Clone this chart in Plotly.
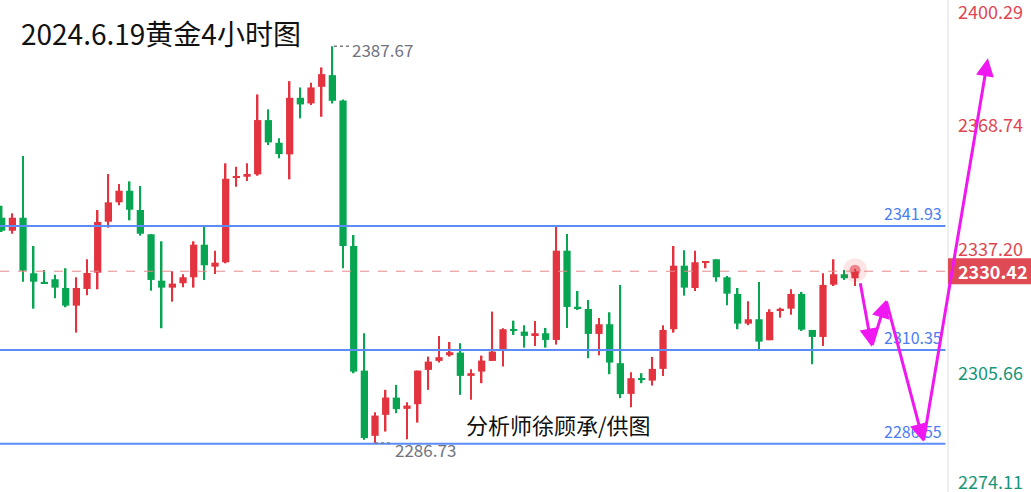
import plotly.graph_objects as go

# ---------------- data ----------------
opens = [2344.04, 2340.73, 2344.04, 2329.90, 2327.69, 2328.38, 2326.16, 2321.66, 2325.91, 2330.05,
         2343.02, 2347.95, 2350.90, 2346.00, 2339.82, 2328.02, 2326.24, 2327.36, 2328.88, 2337.17,
         2331.58, 2332.70, 2354.26, 2354.46, 2355.07, 2368.88, 2363.11, 2360.16, 2374.55, 2373.12,
         2377.35, 2380.32, 2373.89, 2336.84, 2305.13, 2288.53, 2293.87, 2298.27, 2295.40, 2296.59,
         2305.31, 2307.60, 2309.05, 2309.71, 2303.79, 2304.88, 2307.60, 2310.58, 2315.61, 2315.05,
         2314.14, 2314.64, 2312.94, 2335.65, 2321.28, 2320.82, 2314.47, 2316.93, 2307.02, 2299.21,
         2303.08, 2302.59, 2305.57, 2315.66, 2331.83, 2326.16, 2332.65, 2333.46, 2328.88, 2324.64,
         2317.09, 2318.20, 2312.86, 2320.52, 2320.90, 2324.64, 2315.48, 2313.70, 2327.00, 2329.65,
         2328.63]
highs = [2347.09, 2345.16, 2359.73, 2336.84, 2330.74, 2329.54, 2331.17, 2328.88, 2333.46, 2346.00,
         2355.15, 2352.61, 2353.29, 2352.10, 2339.82, 2338.04, 2330.41, 2329.65, 2338.04, 2341.75,
         2335.65, 2357.87, 2357.00, 2357.87, 2375.41, 2371.60, 2364.23, 2378.79, 2377.19, 2378.36,
         2382.28, 2387.67, 2374.14, 2339.64, 2314.64, 2294.56, 2300.23, 2301.50, 2297.10, 2305.13,
         2308.70, 2313.96, 2312.43, 2312.10, 2305.49, 2308.95, 2320.14, 2315.92, 2317.85, 2316.68,
         2317.77, 2315.99, 2341.75, 2339.89, 2325.40, 2323.11, 2318.53, 2319.98, 2326.93, 2304.73,
         2304.47, 2308.62, 2316.68, 2336.84, 2335.75, 2335.65, 2332.85, 2333.46, 2329.21, 2326.16,
         2322.78, 2327.69, 2320.75, 2321.15, 2325.83, 2325.15, 2315.48, 2329.90, 2333.46, 2330.74,
         2331.00]
lows = [2340.40, 2339.97, 2327.76, 2320.90, 2327.30, 2323.54, 2321.26, 2314.80, 2324.31, 2325.83,
        2341.50, 2347.19, 2343.38, 2339.46, 2325.48, 2315.92, 2322.68, 2326.34, 2326.24, 2328.20,
        2329.72, 2332.44, 2351.92, 2353.37, 2354.72, 2362.52, 2359.14, 2353.80, 2369.31, 2372.69,
        2369.72, 2373.12, 2331.17, 2304.47, 2287.51, 2286.73, 2289.63, 2294.30, 2287.69, 2291.91,
        2300.23, 2307.17, 2308.70, 2298.96, 2297.69, 2301.93, 2307.60, 2306.15, 2314.21, 2310.98,
        2311.42, 2310.98, 2311.75, 2315.99, 2320.57, 2308.29, 2309.05, 2304.22, 2298.12, 2295.83,
        2301.93, 2301.32, 2303.79, 2314.80, 2324.21, 2325.40, 2331.17, 2327.76, 2321.76, 2315.66,
        2316.68, 2310.58, 2312.86, 2318.61, 2319.37, 2315.23, 2306.76, 2311.42, 2326.67, 2328.20,
        2326.67]
closes = [2340.73, 2344.04, 2330.56, 2327.76, 2327.36, 2326.24, 2321.66, 2326.16, 2329.98, 2342.94,
          2347.95, 2350.90, 2346.07, 2339.97, 2328.20, 2326.24, 2327.26, 2328.88, 2337.17, 2331.93,
          2332.60, 2353.95, 2354.51, 2355.15, 2368.88, 2363.21, 2360.23, 2374.55, 2372.87, 2377.19,
          2380.57, 2373.79, 2336.84, 2304.88, 2287.95, 2293.69, 2298.27, 2295.32, 2296.24, 2305.13,
          2307.42, 2308.54, 2309.81, 2303.79, 2304.47, 2307.68, 2309.97, 2315.66, 2315.36, 2313.96,
          2314.64, 2312.94, 2335.65, 2321.33, 2321.03, 2314.47, 2316.93, 2307.17, 2299.14, 2303.20,
          2302.82, 2305.57, 2315.48, 2331.83, 2326.24, 2332.70, 2332.85, 2328.88, 2324.72, 2317.09,
          2318.20, 2312.51, 2320.06, 2320.75, 2324.64, 2315.56, 2313.70, 2326.93, 2329.65, 2328.63,
          2330.42]

current_price = 2330.42
level_lines = [2341.93, 2310.35, 2286.55]
axis_labels = [2400.29, 2368.74, 2337.20, 2305.66, 2274.11]
marked_high = 2387.67
marked_low = 2286.73

# forecast path (bar index, price)
forecast_x = [80.47, 81.57, 82.91, 86.41, 92.46]
forecast_y = [2327.76, 2311.22, 2323.10, 2287.04, 2384.60]

title = "2024.6.19黄金4小时图"
credit = "分析师徐顾承/供图"

# ---------------- style ----------------
RED = "#e2333f"
GREEN = "#07a552"
BLUE = "#5b8cf7"
BLUE_TXT = "#4a7cf2"
MAGENTA = "#f018f0"
AXRED = "#e04652"
AXGREEN = "#17977a"
FONT = "Noto Sans CJK SC"

XMIN, XEDGE, XMAX = -0.16, 88.72, 96.5
YMIN, YMAX = 2274.24, 2399.44

n = len(opens)
idx = list(range(n))
up = [c >= o for o, c in zip(opens, closes)]
colors = [RED if u else GREEN for u in up]
body_base = [min(o, c) for o, c in zip(opens, closes)]
body_h = [max(abs(c - o), 0.35) for o, c in zip(opens, closes)]
wick_h = [h - l for h, l in zip(highs, lows)]

fig = go.Figure()
fig.add_trace(go.Bar(x=idx, y=wick_h, base=lows, width=0.14,
                     marker=dict(color=colors, line=dict(width=0)), hoverinfo="skip"))
fig.add_trace(go.Bar(x=idx, y=body_h, base=body_base, width=0.68,
                     marker=dict(color=colors, line=dict(width=0)), hoverinfo="skip"))

# glow on last candle
fig.add_trace(go.Scatter(x=[n - 1], y=[highs[-1] - 0.3], mode="markers",
                         marker=dict(size=24, color="rgba(226,51,63,0.13)"), hoverinfo="skip"))
fig.add_trace(go.Scatter(x=[n - 1], y=[highs[-1] - 0.3], mode="markers",
                         marker=dict(size=11, color="rgba(226,51,63,0.55)"), hoverinfo="skip"))

shapes = []
# separator of price axis
shapes.append(dict(type="line", xref="x", yref="paper", x0=XEDGE, x1=XEDGE, y0=0, y1=1,
                   line=dict(color="#eeeff2", width=2)))
# level lines
for lv in level_lines:
    shapes.append(dict(type="line", xref="x", yref="y", x0=XMIN, x1=XEDGE - 0.25, y0=lv, y1=lv,
                       line=dict(color=BLUE, width=2)))
# current price dashed line
shapes.append(dict(type="line", xref="x", yref="y", x0=XMIN, x1=XEDGE, y0=current_price,
                   y1=current_price, line=dict(color="#e58a8a", width=1, dash="dash")))
# current price tag
shapes.append(dict(type="rect", xref="x", yref="y", x0=XEDGE, x1=XMAX,
                   y0=current_price - 3.3, y1=current_price + 3.3,
                   fillcolor="#df4a55", line=dict(width=0)))
# dotted leaders for high/low marks
hi_i = highs.index(marked_high)
lo_i = lows.index(marked_low)
shapes.append(dict(type="line", xref="x", yref="y", x0=hi_i + 0.15, x1=hi_i + 1.6,
                   y0=marked_high, y1=marked_high, line=dict(color="#777c88", width=1.5, dash="dot")))
shapes.append(dict(type="line", xref="x", yref="y", x0=lo_i + 0.0, x1=lo_i + 1.6,
                   y0=marked_low, y1=marked_low, line=dict(color="#777c88", width=1.5, dash="dot")))

ann = []
ann.append(dict(text=title, xref="paper", yref="paper", x=0.018, y=0.933, xanchor="left",
                yanchor="middle", showarrow=False, font=dict(family=FONT, size=28, color="#111")))
ann.append(dict(text=credit, xref="x", yref="y", x=43.3, y=marked_low, xanchor="left",
                yanchor="bottom", yshift=1, showarrow=False,
                font=dict(family=FONT, size=22, color="#111")))
ann.append(dict(text=f"{marked_high:.2f}", xref="x", yref="y", x=hi_i + 1.65, y=marked_high,
                xanchor="left", yanchor="middle", yshift=-3, showarrow=False,
                font=dict(family=FONT, size=17, color="#6f7480")))
ann.append(dict(text=f"{marked_low:.2f}", xref="x", yref="y", x=lo_i + 1.65, y=marked_low,
                xanchor="left", yanchor="middle", yshift=-7, showarrow=False,
                font=dict(family=FONT, size=17, color="#6f7480")))
for lv in level_lines:
    ann.append(dict(text=f"{lv:.2f}", xref="x", yref="y", x=XEDGE, y=lv, xanchor="right",
                    yanchor="bottom", xshift=-4, yshift=-1, showarrow=False,
                    font=dict(family=FONT, size=16, color=BLUE_TXT)))
pad = 2.8
for v in axis_labels:
    yy = min(max(v, YMIN + pad), YMAX - pad)
    ann.append(dict(text=f"{v:.2f}", xref="x", yref="y", x=XEDGE, y=yy, xanchor="left",
                    yanchor="middle", xshift=8, yshift=-3 if YMIN + pad < v < YMAX - pad else 0,
                    showarrow=False,
                    font=dict(family=FONT, size=18, color=AXRED if v > current_price else AXGREEN)))
ann.append(dict(text=f"<b>{current_price:.2f}</b>", xref="x", yref="y", x=XEDGE, y=current_price,
                xanchor="left", yanchor="middle", xshift=8, showarrow=False,
                font=dict(family=FONT, size=18, color="white")))
# forecast arrows
for i in range(len(forecast_x) - 1):
    ann.append(dict(x=forecast_x[i + 1], y=forecast_y[i + 1], ax=forecast_x[i], ay=forecast_y[i],
                    xref="x", yref="y", axref="x", ayref="y", text="", showarrow=True,
                    arrowhead=2, arrowsize=1.2, arrowwidth=3, arrowcolor=MAGENTA))

fig.update_layout(
    width=1031, height=492, margin=dict(l=0, r=0, t=0, b=0),
    paper_bgcolor="white", plot_bgcolor="white", showlegend=False, barmode="overlay",
    xaxis=dict(range=[XMIN, XMAX], visible=False, fixedrange=True),
    yaxis=dict(range=[YMIN, YMAX], visible=False, fixedrange=True),
    shapes=shapes, annotations=ann,
)
fig.write_html(
    "out.html",
    config={"displayModeBar": False},
    post_script="document.body.style.margin='0';document.body.style.overflow='hidden';",
)
